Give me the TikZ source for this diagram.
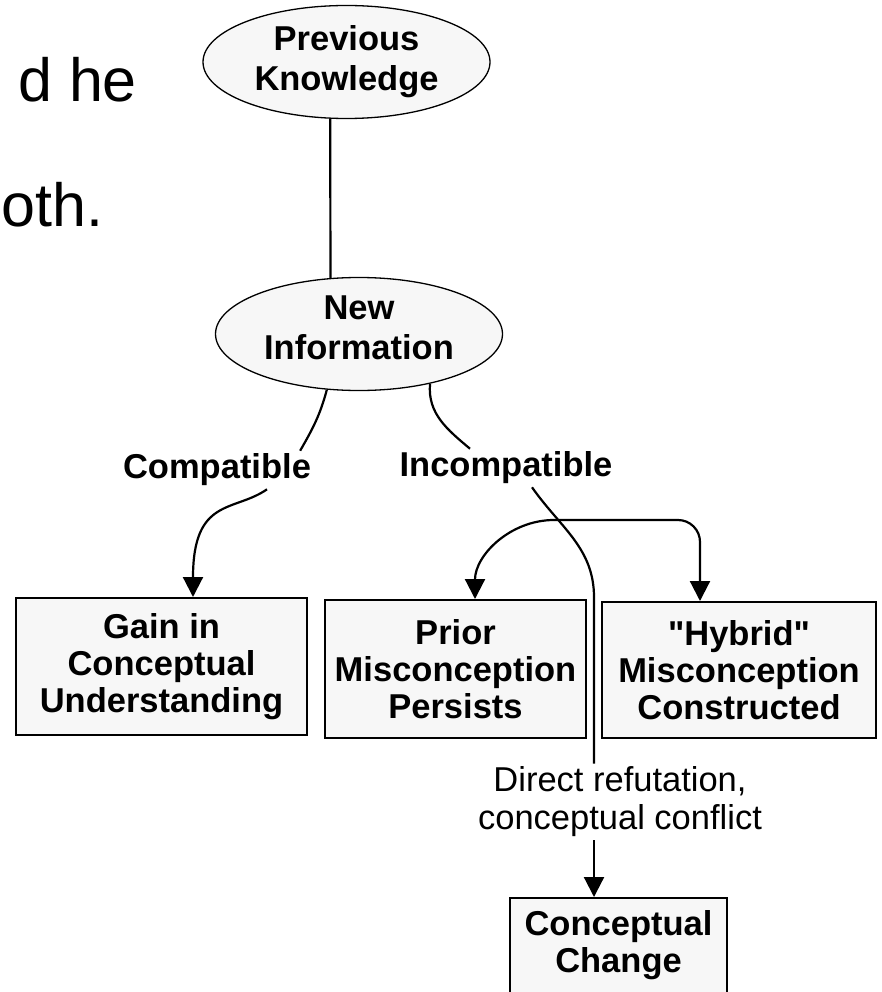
\documentclass[tikz,border=0pt]{standalone}
\usepackage{fontspec}
\setmainfont{Liberation Sans}
\usetikzlibrary{shapes.geometric,arrows.meta}
\definecolor{lightfill}{HTML}{F7F7F7}
\tikzstyle{concept} = [ellipse, minimum width=287pt, minimum height=113pt, inner sep=0pt, align=center, draw=black, line width=1.3pt, fill=lightfill, font=\fontsize{34.5}{40}\selectfont\bfseries]
\tikzstyle{outcome} = [rectangle, inner sep=0pt, align=center, draw=black, line width=2pt, fill=lightfill, font=\fontsize{34.5}{37}\selectfont\bfseries]
\tikzstyle{branch} = [inner sep=3pt, align=center, font=\fontsize{34.5}{38}\selectfont\bfseries]
\tikzstyle{note} = [inner sep=3pt, align=center, font=\fontsize{34.5}{38}\selectfont]
\tikzstyle{slide} = [inner sep=0pt, anchor=base west, font=\fontsize{61}{70}\selectfont]
\tikzstyle{line} = [line width=2.2pt]
\tikzstyle{arrow} = [line width=2.2pt, -{Triangle[length=20pt,width=20pt]}]

\begin{document}
\begin{tikzpicture}[x=1pt,y=1pt]
        \useasboundingbox (0,0) rectangle (881,-992);
        \node (bg1) [slide] at (18,-102) {d he};
        \node (bg2) [slide] at (1.5,-227) {oth.};
        \node (ell1) [concept] at (346.5,-62) {Previous\\Knowledge};
        \node (ell2) [concept] at (359,-334) {New\\Information\strut};
        \node (lab1) [branch] at (217,-470) {Compatible};
        \node (lab2) [branch] at (506,-468) {Incompatible};
        \node (box1) [outcome, minimum width=291pt, minimum height=137pt] at (161.5,-666.5) {Gain in\\Conceptual\\Understanding};
        \node (box2) [outcome, minimum width=261pt, minimum height=138pt] at (455.5,-669) {Prior\\Misconception\\Persists};
        \node (box3) [outcome, minimum width=274pt, minimum height=136pt] at (739,-670) {\textquotedbl Hybrid\textquotedbl\\Misconception\\Constructed};
        \node (lab3) [note] at (620,-802) {Direct refutation,\\conceptual conflict};
        \node (box4) [outcome, anchor=north, minimum width=217pt, inner ysep=12pt, text depth=55pt] at (618.5,-897) {Conceptual\\Change};
        \coordinate (fork) at (554,-520);

        \draw [line] (ell1.254) -- (ell2.117);
        \draw [line] (ell2.240) to[out=-105,in=60] ([xshift=-14pt]lab1.north east);
        \draw [arrow] ([xshift=50pt]lab1.south) to[out=-145,in=90,out distance=40pt,in distance=100pt] ([xshift=31.5pt]box1.north);
        \draw [line] (ell2.325) to[out=-95,in=140] ([xshift=-36pt]lab2.north);
        \draw [line] ([xshift=26pt]lab2.south) to[out=-55,in=90] ++(62,-110) -- ([xshift=-26pt]lab3.north);
        \draw [arrow] (fork) to[out=180,in=90] ([xshift=19.5pt]box2.north);
        \draw [arrow, rounded corners=22pt] (fork) -| ([xshift=-39pt]box3.north);
        \draw [arrow] ([xshift=-26pt]lab3.south) -- ([xshift=-24.5pt]box4.north);
    \end{tikzpicture}
\end{document}
